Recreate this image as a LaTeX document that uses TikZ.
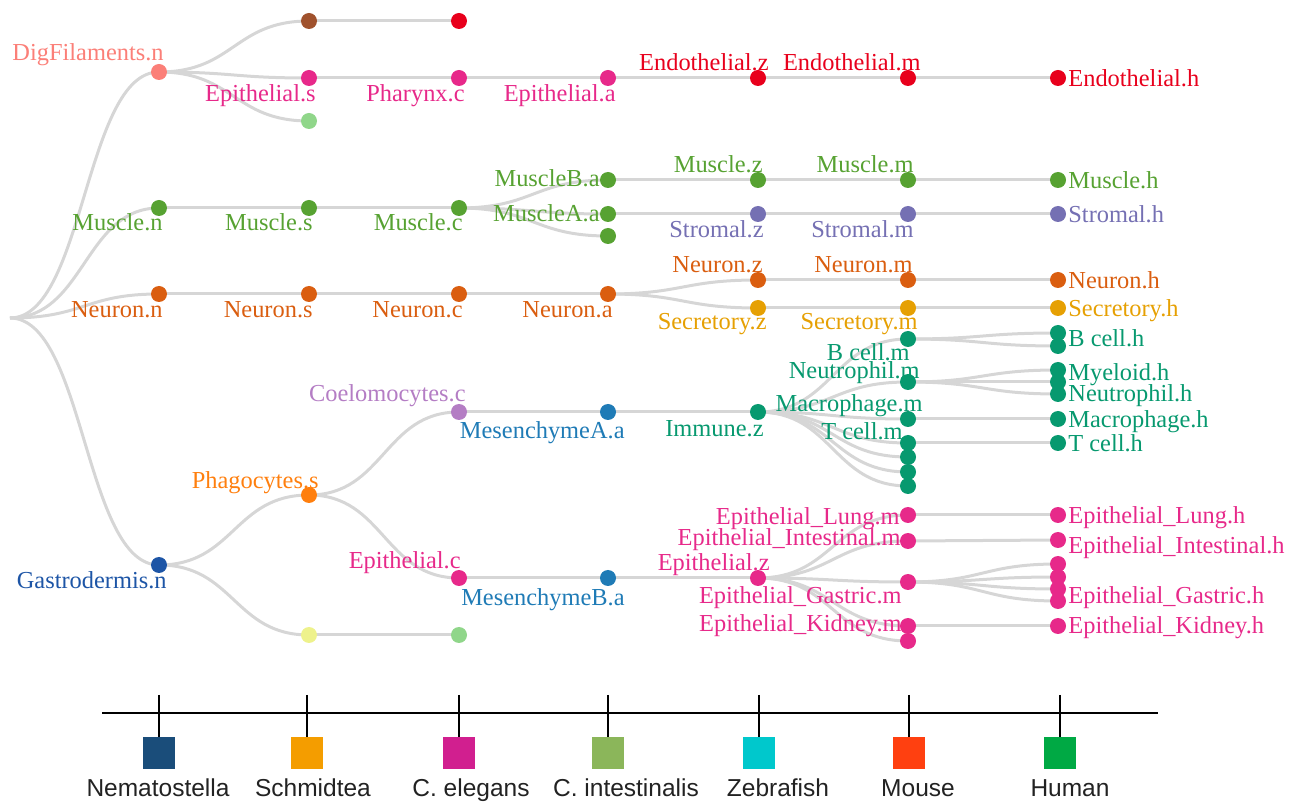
\documentclass[tikz,border=0pt]{standalone}
\usepackage{fontspec}
\setmainfont{Liberation Serif}
\setsansfont{Liberation Sans}
\usetikzlibrary{calc,backgrounds}
% node colours
\definecolor{cdig}{HTML}{FB7F78}
\definecolor{cbrown}{HTML}{A0522D}
\definecolor{cred}{HTML}{E8001C}
\definecolor{cepi}{HTML}{E7298A}
\definecolor{clgreen}{HTML}{90D68A}
\definecolor{cmus}{HTML}{57A232}
\definecolor{cstr}{HTML}{7570B3}
\definecolor{cneu}{HTML}{DA5E10}
\definecolor{csec}{HTML}{E6A003}
\definecolor{cgas}{HTML}{1D55A6}
\definecolor{cphag}{HTML}{FF7F0E}
\definecolor{cyel}{HTML}{EEF28C}
\definecolor{ccoel}{HTML}{B47DC4}
\definecolor{cmes}{HTML}{1F7BB6}
\definecolor{cimm}{HTML}{07996F}
\definecolor{linkgray}{HTML}{D6D6D6}
% legend colours
\definecolor{lgnema}{HTML}{1A4D7A}
\definecolor{lgschm}{HTML}{F49D00}
\definecolor{lgcele}{HTML}{D11F8F}
\definecolor{lgcint}{HTML}{8BB65A}
\definecolor{lgzebra}{HTML}{00C8CC}
\definecolor{lgmouse}{HTML}{FF4010}
\definecolor{lghuman}{HTML}{00A944}
\definecolor{lgtext}{HTML}{222222}
\tikzset{
  dot/.style={circle, fill=#1, inner sep=0pt, minimum size=8pt},
  lbl/.style={text=#1, inner sep=0pt, yshift=-2pt, font=\fontsize{12.2}{14}\selectfont},
  lbll/.style={lbl=#1, anchor=mid east},
  lblr/.style={lbl=#1, anchor=mid west},
  link/.style={draw=linkgray, line width=1.5pt,
    to path={.. controls ($(\tikztostart)!.5!(\tikztotarget |- \tikztostart)$)
      and ($(\tikztotarget)!.5!(\tikztostart |- \tikztotarget)$) .. (\tikztotarget)}},
  axisline/.style={draw=black, line width=1.4pt},
  sqbox/.style={fill=#1, draw=none, minimum size=16pt, inner sep=0pt},
  spname/.style={text=lgtext, inner sep=0pt, anchor=base, font=\sffamily\fontsize{12.25}{14}\selectfont}
}
\begin{document}
\begin{tikzpicture}[x=0.5pt, y=-0.5pt]
  \useasboundingbox (0,0) rectangle (1298,802);
  \coordinate (root) at (10,318);
  % depth n
  \node[dot=cdig] (dign) at (159,72) {};
  \node[dot=cmus] (musn) at (159,208) {};
  \node[dot=cneu] (neun) at (159,294) {};
  \node[dot=cgas] (gasn) at (159,565) {};
  % depth s
  \node[dot=cbrown] (brs) at (309,21) {};
  \node[dot=cepi] (epis) at (309,78) {};
  \node[dot=clgreen] (lgs) at (309,121) {};
  \node[dot=cmus] (muss) at (309,208) {};
  \node[dot=cneu] (neus) at (309,294) {};
  \node[dot=cphag] (phas) at (309,495) {};
  \node[dot=cyel] (yels) at (309,635) {};
  % depth c
  \node[dot=cred] (redc) at (459,21) {};
  \node[dot=cepi] (phac) at (459,78) {};
  \node[dot=cmus] (musc) at (459,208) {};
  \node[dot=cneu] (neuc) at (459,294) {};
  \node[dot=ccoel] (coec) at (459,412) {};
  \node[dot=cepi] (epic) at (459,578) {};
  \node[dot=clgreen] (lgc) at (459,635) {};
  % depth a
  \node[dot=cepi] (epia) at (608,78) {};
  \node[dot=cmus] (musba) at (608,180) {};
  \node[dot=cmus] (musaa) at (608,214) {};
  \node[dot=cmus] (musxa) at (608,236) {};
  \node[dot=cneu] (neua) at (608,294) {};
  \node[dot=cmes] (mesaa) at (608,412) {};
  \node[dot=cmes] (mesba) at (608,578) {};
  % depth z
  \node[dot=cred] (endz) at (758,78) {};
  \node[dot=cmus] (musz) at (758,180) {};
  \node[dot=cstr] (strz) at (758,214) {};
  \node[dot=cneu] (neuz) at (758,280) {};
  \node[dot=csec] (secz) at (758,308) {};
  \node[dot=cimm] (immz) at (758,412) {};
  \node[dot=cepi] (epiz) at (758,578) {};
  % depth m
  \node[dot=cred] (endm) at (908,78) {};
  \node[dot=cmus] (musm) at (908,180) {};
  \node[dot=cstr] (strm) at (908,214) {};
  \node[dot=cneu] (neum) at (908,280) {};
  \node[dot=csec] (secm) at (908,308) {};
  \node[dot=cimm] (bcm) at (908,339) {};
  \node[dot=cimm] (ntpm) at (908,382) {};
  \node[dot=cimm] (macm) at (908,419) {};
  \node[dot=cimm] (tcm) at (908,443) {};
  \node[dot=cimm] (imm5) at (908,457) {};
  \node[dot=cimm] (imm6) at (908,472) {};
  \node[dot=cimm] (imm7) at (908,486) {};
  \node[dot=cepi] (lungm) at (908,515) {};
  \node[dot=cepi] (intm) at (908,541) {};
  \node[dot=cepi] (gasm) at (908,582) {};
  \node[dot=cepi] (kidm) at (908,626) {};
  \node[dot=cepi] (kidxm) at (908,641) {};
  % depth h
  \node[dot=cred] (endh) at (1058,78) {};
  \node[dot=cmus] (mush) at (1058,180) {};
  \node[dot=cstr] (strh) at (1058,214) {};
  \node[dot=cneu] (neuh) at (1058,280) {};
  \node[dot=csec] (sech) at (1058,308) {};
  \node[dot=cimm] (bch1) at (1058,333) {};
  \node[dot=cimm] (bch2) at (1058,346) {};
  \node[dot=cimm] (myeh1) at (1058,370) {};
  \node[dot=cimm] (myeh2) at (1058,382) {};
  \node[dot=cimm] (myeh3) at (1058,394) {};
  \node[dot=cimm] (mach) at (1058,419) {};
  \node[dot=cimm] (tch) at (1058,443) {};
  \node[dot=cepi] (lungh) at (1058,515) {};
  \node[dot=cepi] (inth) at (1058,540) {};
  \node[dot=cepi] (gash1) at (1058,564) {};
  \node[dot=cepi] (gash2) at (1058,577) {};
  \node[dot=cepi] (gash3) at (1058,589) {};
  \node[dot=cepi] (gash4) at (1058,601) {};
  \node[dot=cepi] (kidh) at (1058,626) {};

  % links
  \begin{scope}[on background layer]
    \foreach \a/\b in {root/dign, root/musn, root/neun, root/gasn,
        dign/brs, dign/epis, dign/lgs, musn/muss, neun/neus, gasn/phas, gasn/yels,
        brs/redc, epis/phac, muss/musc, neus/neuc, phas/coec, phas/epic, yels/lgc,
        phac/epia, musc/musba, musc/musaa, musc/musxa, neuc/neua, coec/mesaa, epic/mesba,
        epia/endz, musba/musz, musaa/strz, neua/neuz, neua/secz, mesaa/immz, mesba/epiz,
        endz/endm, musz/musm, strz/strm, neuz/neum, secz/secm,
        immz/bcm, immz/ntpm, immz/macm, immz/tcm, immz/imm5, immz/imm6, immz/imm7,
        epiz/lungm, epiz/intm, epiz/gasm, epiz/kidm, epiz/kidxm,
        endm/endh, musm/mush, strm/strh, neum/neuh, secm/sech,
        bcm/bch1, bcm/bch2, ntpm/myeh1, ntpm/myeh2, ntpm/myeh3, macm/mach, tcm/tch,
        lungm/lungh, intm/inth, gasm/gash1, gasm/gash2, gasm/gash3, gasm/gash4, kidm/kidh}
      \draw[link] (\a.center) to (\b.center);
  \end{scope}

  % labels
  \node[lbll=cdig] (tdign) at (164,52) {DigFilaments.n};
  \node[lbll=cepi] (tepis) at (316,93) {Epithelial.s};
  \node[lbll=cepi] (tphac) at (465,93) {Pharynx.c};
  \node[lbll=cepi] (tepia) at (616,93) {Epithelial.a};
  \node[lbll=cred] (tendz) at (769,62) {Endothelial.z};
  \node[lbll=cred] (tendm) at (921,62) {Endothelial.m};
  \node[lbll=cmus] (tmusn) at (163,222) {Muscle.n};
  \node[lbll=cmus] (tmuss) at (313,222) {Muscle.s};
  \node[lbll=cmus] (tmusc) at (463,222) {Muscle.c};
  \node[lbll=cmus] (tmusba) at (600,178) {MuscleB.a};
  \node[lbll=cmus] (tmusaa) at (600,213) {MuscleA.a};
  \node[lbll=cmus] (tmusz) at (763,164) {Muscle.z};
  \node[lbll=cmus] (tmusm) at (914,164) {Muscle.m};
  \node[lbll=cstr] (tstrz) at (764,229) {Stromal.z};
  \node[lbll=cstr] (tstrm) at (914,229) {Stromal.m};
  \node[lbll=cneu] (tneun) at (163,309) {Neuron.n};
  \node[lbll=cneu] (tneus) at (313,309) {Neuron.s};
  \node[lbll=cneu] (tneuc) at (463,309) {Neuron.c};
  \node[lbll=cneu] (tneua) at (613,309) {Neuron.a};
  \node[lbll=cneu] (tneuz) at (763,264) {Neuron.z};
  \node[lbll=cneu] (tneum) at (913,264) {Neuron.m};
  \node[lbll=csec] (tsecz) at (767,321) {Secretory.z};
  \node[lbll=csec] (tsecm) at (918,321) {Secretory.m};
  \node[lbll=cimm] (tbcm) at (910,352) {B cell.m};
  \node[lbll=cimm] (tntpm) at (920,370) {Neutrophil.m};
  \node[lbll=cimm] (tmacm) at (923,403) {Macrophage.m};
  \node[lbll=cimm] (ttcm) at (903,431) {T cell.m};
  \node[lbll=cimm] (timmz) at (764,428) {Immune.z};
  \node[lbll=ccoel] (tcoec) at (466,393) {Coelomocytes.c};
  \node[lbll=cmes] (tmesaa) at (625,430) {MesenchymeA.a};
  \node[lbll=cphag] (tphas) at (319,480) {Phagocytes.s};
  \node[lbll=cepi] (tepic) at (461,560) {Epithelial.c};
  \node[lbll=cmes] (tmesba) at (625,597) {MesenchymeB.a};
  \node[lbll=cgas] (tgasn) at (167,580) {Gastrodermis.n};
  \node[lbll=cepi] (tepiz) at (770,562) {Epithelial.z};
  \node[lbll=cepi] (tlungm) at (900,516) {Epithelial\_Lung.m};
  \node[lbll=cepi] (tintm) at (901,537) {Epithelial\_Intestinal.m};
  \node[lbll=cepi] (tgasm) at (902,595) {Epithelial\_Gastric.m};
  \node[lbll=cepi] (tkidm) at (902,623) {Epithelial\_Kidney.m};
  \node[lblr=cred] (tendh) at (1068,78) {Endothelial.h};
  \node[lblr=cmus] (tmush) at (1068,180) {Muscle.h};
  \node[lblr=cstr] (tstrh) at (1068,214) {Stromal.h};
  \node[lblr=cneu] (tneuh) at (1068,280) {Neuron.h};
  \node[lblr=csec] (tsech) at (1068,308) {Secretory.h};
  \node[lblr=cimm] (tbch) at (1068,338) {B cell.h};
  \node[lblr=cimm] (tmyeh) at (1068,372) {Myeloid.h};
  \node[lblr=cimm] (tntph) at (1068,393) {Neutrophil.h};
  \node[lblr=cimm] (tmach) at (1068,419) {Macrophage.h};
  \node[lblr=cimm] (ttch) at (1068,443) {T cell.h};
  \node[lblr=cepi] (tlungh) at (1068,515) {Epithelial\_Lung.h};
  \node[lblr=cepi] (tinth) at (1068,545) {Epithelial\_Intestinal.h};
  \node[lblr=cepi] (tgash) at (1068,595) {Epithelial\_Gastric.h};
  \node[lblr=cepi] (tkidh) at (1068,625) {Epithelial\_Kidney.h};

  % species axis
  \coordinate (axl) at (102,713);
  \coordinate (axr) at (1158,713);
  \draw[axisline] (axl) -- (axr);
  \foreach \x/\c/\lx/\t [count=\i] in {159/lgnema/158/Nematostella, 307/lgschm/313/Schmidtea,
      459/lgcele/471/C. elegans, 608/lgcint/626/C. intestinalis, 759/lgzebra/778/Zebrafish,
      909/lgmouse/918/Mouse, 1060/lghuman/1070/Human} {
    \coordinate (tk\i) at (\x,695);
    \node[sqbox=\c] (sq\i) at (\x,753) {};
    \draw[axisline] (tk\i) -- (sq\i.north);
    \node[spname] (sp\i) at (\lx,797) {\t};
  }
\end{tikzpicture}
\end{document}
